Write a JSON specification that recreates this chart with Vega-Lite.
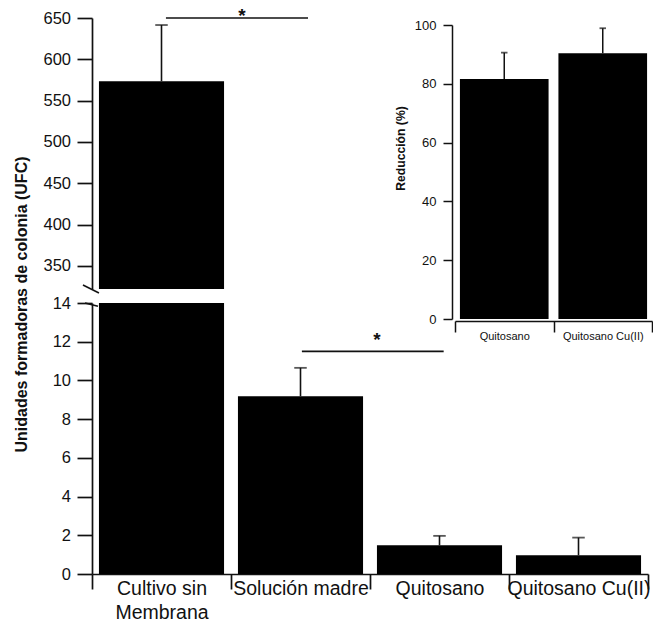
{
  "$schema": "https://vega.github.io/schema/vega-lite/v6.json",
  "width": 556,
  "height": 556,
  "autosize": {"type": "none"},
  "padding": {"left": 92, "top": 18, "right": 5, "bottom": 56},
  "config": {
    "view": {"stroke": null},
    "font": "Liberation Sans",
    "axis": {
      "grid": false,
      "domainColor": "#111",
      "tickColor": "#111",
      "labelColor": "#111",
      "titleColor": "#111",
      "domainWidth": 1.7,
      "tickWidth": 1.7,
      "labelFont": "Liberation Sans",
      "titleFont": "Liberation Sans"
    }
  },
  "datasets": {
    "ufc": [
      {"grupo": "Cultivo sin Membrana", "media": 573.5, "superior": 641.5},
      {"grupo": "Solución madre", "media": 9.18, "superior": 10.65},
      {"grupo": "Quitosano", "media": 1.48, "superior": 1.97},
      {"grupo": "Quitosano Cu(II)", "media": 0.97, "superior": 1.88}
    ],
    "reduccion": [
      {"grupo": "Quitosano", "media": 81.6, "superior": 90.6},
      {"grupo": "Quitosano Cu(II)", "media": 90.4, "superior": 98.9}
    ],
    "signif": [
      {"desde": "Cultivo sin Membrana", "hasta": "Solución madre", "nivel": 650, "marca": "*"},
      {"desde": "Solución madre", "hasta": "Quitosano", "nivel": 11.5, "marca": "*"}
    ],
    "corte": [
      {"grupo": "Cultivo sin Membrana", "tramo": "superior", "inicio": 326.8, "fin": 317.2},
      {"grupo": "Cultivo sin Membrana", "tramo": "inferior", "inicio": 14.09, "fin": 13.83}
    ]
  },
  "layer": [
    {
      "layer": [
        {
          "data": {"name": "ufc"},
          "mark": {"type": "bar", "color": "#000", "width": {"band": 0.9}},
          "encoding": {
            "x": {
              "field": "grupo", "type": "nominal", "sort": null,
              "scale": {"domain": ["Cultivo sin Membrana", "Solución madre", "Quitosano", "Quitosano Cu(II)"], "paddingInner": 0, "paddingOuter": 0},
              "axis": {
                "orient": "bottom", "title": null, "labelAngle": 0, "tickBand": "extent", "tickSize": 15,
                "labelFontSize": 19.5, "labelPadding": -9.5, "labelBaseline": "top", "labelLineHeight": 24,
                "labelOverlap": false, "labelLimit": 300,
                "labelExpr": "datum.label == 'Cultivo sin Membrana' ? ['Cultivo sin', 'Membrana'] : datum.label"
              }
            },
            "y": {
              "field": "media", "type": "quantitative",
              "scale": {"domain": [0, 14], "range": [556, 285], "clamp": true, "nice": false},
              "axis": {
                "orient": "left", "values": [0, 2, 4, 6, 8, 10, 12, 14],
                "title": "Unidades formadoras de colonia (UFC)", "titleFontSize": 16, "titleFontWeight": "bold",
                "titleX": -70.5, "titleY": 286, "titleBaseline": "middle", "titleAngle": -90, "titleAlign": "center",
                "tickSize": 15, "labelFontSize": 16.5, "labelPadding": 6.5
              }
            }
          }
        },
        {
          "data": {"name": "ufc"},
          "transform": [{"filter": "datum.media < 14"}],
          "mark": {"type": "rule", "color": "#111", "strokeWidth": 1.6},
          "encoding": {
            "x": {"field": "grupo", "type": "nominal"},
            "y": {"field": "media", "type": "quantitative"},
            "y2": {"field": "superior"}
          }
        },
        {
          "data": {"name": "ufc"},
          "transform": [{"filter": "datum.media < 14"}],
          "mark": {"type": "tick", "color": "#111", "size": 12.5, "thickness": 1.8},
          "encoding": {
            "x": {"field": "grupo", "type": "nominal"},
            "y": {"field": "superior", "type": "quantitative"}
          }
        },
        {
          "data": {"name": "signif"},
          "transform": [{"filter": "datum.nivel < 14"}],
          "mark": {"type": "rule", "color": "#111", "strokeWidth": 1.6},
          "encoding": {
            "x": {"field": "desde", "type": "nominal", "bandPosition": 0.51},
            "x2": {"field": "hasta", "bandPosition": 0.53},
            "y": {"field": "nivel", "type": "quantitative"}
          }
        },
        {
          "data": {"name": "signif"},
          "transform": [{"filter": "datum.nivel < 14"}],
          "mark": {"type": "text", "color": "#111", "fontSize": 19, "fontWeight": "bold", "baseline": "middle", "align": "center", "dy": -11, "dx": 7},
          "encoding": {
            "x": {"field": "hasta", "type": "nominal", "bandPosition": 0},
            "y": {"field": "nivel", "type": "quantitative"},
            "text": {"field": "marca"}
          }
        },
        {
          "data": {"name": "corte"},
          "transform": [{"filter": "datum.tramo == 'inferior'"}],
          "mark": {"type": "rule", "color": "#111", "strokeWidth": 1.6},
          "encoding": {
            "x": {"field": "grupo", "type": "nominal", "bandPosition": -0.05},
            "x2": {"field": "grupo", "bandPosition": 0.043},
            "y": {"field": "inicio", "type": "quantitative"},
            "y2": {"field": "fin"}
          }
        }
      ]
    },
    {
      "layer": [
        {
          "data": {"name": "ufc"},
          "transform": [{"filter": "datum.media > 14"}],
          "mark": {"type": "bar", "color": "#000", "width": {"band": 0.9}},
          "encoding": {
            "x": {
              "field": "grupo", "type": "nominal", "sort": null,
              "scale": {"domain": ["Cultivo sin Membrana", "Solución madre", "Quitosano", "Quitosano Cu(II)"], "paddingInner": 0, "paddingOuter": 0},
              "axis": null
            },
            "y": {
              "field": "media", "type": "quantitative",
              "scale": {"domain": [322, 650], "range": [271, 0], "nice": false, "zero": false},
              "axis": {
                "orient": "left", "values": [350, 400, 450, 500, 550, 600, 650], "title": null,
                "tickSize": 15, "labelFontSize": 16.5, "labelPadding": 6.5
              }
            },
            "y2": {"datum": 322}
          }
        },
        {
          "data": {"name": "ufc"},
          "transform": [{"filter": "datum.media > 14"}],
          "mark": {"type": "rule", "color": "#111", "strokeWidth": 1.6},
          "encoding": {
            "x": {"field": "grupo", "type": "nominal"},
            "y": {"field": "media", "type": "quantitative"},
            "y2": {"field": "superior"}
          }
        },
        {
          "data": {"name": "ufc"},
          "transform": [{"filter": "datum.media > 14"}],
          "mark": {"type": "tick", "color": "#111", "size": 12.5, "thickness": 1.8},
          "encoding": {
            "x": {"field": "grupo", "type": "nominal"},
            "y": {"field": "superior", "type": "quantitative"}
          }
        },
        {
          "data": {"name": "signif"},
          "transform": [{"filter": "datum.nivel > 14"}],
          "mark": {"type": "rule", "color": "#111", "strokeWidth": 1.6},
          "encoding": {
            "x": {"field": "desde", "type": "nominal", "bandPosition": 0.532},
            "x2": {"field": "hasta", "bandPosition": 0.554},
            "y": {"field": "nivel", "type": "quantitative"}
          }
        },
        {
          "data": {"name": "signif"},
          "transform": [{"filter": "datum.nivel > 14"}],
          "mark": {"type": "text", "color": "#111", "fontSize": 19, "fontWeight": "bold", "baseline": "middle", "align": "center", "dy": -2, "dx": 11},
          "encoding": {
            "x": {"field": "hasta", "type": "nominal", "bandPosition": 0},
            "y": {"field": "nivel", "type": "quantitative"},
            "text": {"field": "marca"}
          }
        },
        {
          "data": {"name": "corte"},
          "transform": [{"filter": "datum.tramo == 'superior'"}],
          "mark": {"type": "rule", "color": "#111", "strokeWidth": 1.6},
          "encoding": {
            "x": {"field": "grupo", "type": "nominal", "bandPosition": -0.065},
            "x2": {"field": "grupo", "bandPosition": 0.05},
            "y": {"field": "inicio", "type": "quantitative"},
            "y2": {"field": "fin"}
          }
        }
      ]
    },
    {
      "data": {"name": "reduccion"},
      "layer": [
        {
          "mark": {"type": "bar", "color": "#000", "width": {"band": 0.9}},
          "encoding": {
            "x": {
              "field": "grupo", "type": "nominal", "sort": null,
              "scale": {"domain": ["Quitosano", "Quitosano Cu(II)"], "range": [363, 560], "paddingInner": 0, "paddingOuter": 0},
              "axis": {
                "orient": "bottom", "offset": -253, "title": null, "labelAngle": 0, "tickBand": "extent",
                "tickSize": 11, "labelFontSize": 11, "labelPadding": -1.8, "labelOverlap": false,
                "domainWidth": 1.5, "tickWidth": 1.5
              }
            },
            "y": {
              "field": "media", "type": "quantitative",
              "scale": {"domain": [0, 100], "range": [301, 7], "nice": false},
              "axis": {
                "orient": "left", "offset": -360, "values": [0, 20, 40, 60, 80, 100],
                "title": "Reducción (%)", "titleFontSize": 12.2, "titleFontWeight": "bold",
                "titleX": -52, "titleY": 130, "titleBaseline": "middle", "titleAngle": -90, "titleAlign": "center",
                "tickSize": 9, "labelFontSize": 13, "labelPadding": 7, "domainWidth": 1.5, "tickWidth": 1.5
              }
            }
          }
        },
        {
          "mark": {"type": "rule", "color": "#111", "strokeWidth": 1.5},
          "encoding": {
            "x": {"field": "grupo", "type": "nominal"},
            "y": {"field": "media", "type": "quantitative"},
            "y2": {"field": "superior"}
          }
        },
        {
          "mark": {"type": "tick", "color": "#111", "size": 6.5, "thickness": 1.8},
          "encoding": {
            "x": {"field": "grupo", "type": "nominal"},
            "y": {"field": "superior", "type": "quantitative"}
          }
        }
      ]
    }
  ],
  "resolve": {
    "scale": {"x": "independent", "y": "independent"},
    "axis": {"x": "independent", "y": "independent"}
  }
}
